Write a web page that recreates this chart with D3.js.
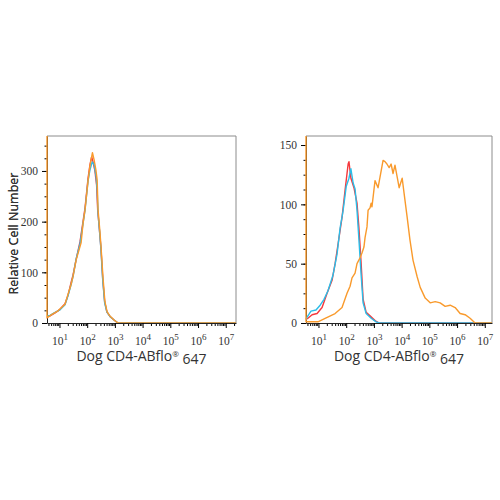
<!DOCTYPE html>
<html>
<head>
<meta charset="utf-8">
<script src="https://cdn.jsdelivr.net/npm/d3@7"></script>
<style>
  body { margin: 0; background: #fff; }
</style>
</head>
<body>
<div id="chart"></div>
<script>
// Each point is [log10 fluorescence, cell count]
const leftRed = [
    [0.55, 12], [0.66, 14], [0.84, 20], [1.02, 27], [1.20, 38], [1.31, 55], [1.42, 80],
    [1.49, 95], [1.60, 125], [1.74, 160], [1.85, 200], [1.92, 226], [2.03, 285],
    [2.10, 312], [2.16, 328], [2.21, 318], [2.28, 300], [2.34, 272], [2.38, 222],
    [2.45, 178], [2.50, 145], [2.56, 88], [2.63, 42], [2.71, 22], [2.82, 13], [2.97, 6],
    [3.11, 0], [7.37, 0]
];
const leftCyan = [
    [0.55, 14], [0.66, 15], [0.84, 21], [1.02, 26], [1.20, 36], [1.31, 54], [1.42, 76],
    [1.49, 92], [1.60, 126], [1.74, 156], [1.85, 196], [1.92, 222], [2.03, 280],
    [2.10, 302], [2.18, 318], [2.25, 312], [2.32, 290], [2.36, 262], [2.39, 218],
    [2.46, 172], [2.50, 142], [2.56, 85], [2.63, 40], [2.71, 22], [2.82, 13], [2.97, 6],
    [3.11, 0], [7.37, 0]
];
const leftOrange = [
    [0.55, 1000], [0.55, 10], [0.73, 17], [0.95, 24], [1.20, 37], [1.31, 57], [1.42, 76],
    [1.49, 92], [1.60, 124], [1.78, 158], [1.85, 196], [1.92, 222], [2.03, 280],
    [2.10, 310], [2.19, 336], [2.25, 322], [2.32, 300], [2.36, 282], [2.39, 225],
    [2.46, 180], [2.50, 150], [2.57, 90], [2.64, 42], [2.72, 22], [2.82, 14], [2.97, 6],
    [3.11, 0], [7.37, 0]
];

const rightRed = [
    [0.55, 3], [0.62, 4], [0.77, 7], [0.95, 8], [1.13, 13], [1.31, 25], [1.49, 36], [1.60, 50],
    [1.71, 67], [1.85, 89], [1.96, 112], [2.07, 134], [2.10, 136], [2.17, 122],
    [2.28, 114], [2.39, 101], [2.46, 80], [2.54, 50], [2.61, 20], [2.72, 9],
    [2.86, 6], [3.04, 2], [3.19, 0], [7.26, 0]
];
const rightCyan = [
    [0.55, 3], [0.59, 5], [0.73, 10], [0.91, 11], [1.06, 15], [1.20, 20], [1.34, 27], [1.52, 40],
    [1.67, 58], [1.78, 80], [1.89, 95], [2.00, 115], [2.10, 122], [2.17, 130],
    [2.25, 118], [2.32, 113], [2.39, 95], [2.46, 70], [2.54, 40], [2.61, 17],
    [2.72, 8], [2.90, 4], [3.08, 1], [3.19, 0], [7.26, 0]
];
const rightOrange = [
    [0.55, 500], [0.55, 1], [0.98, 1], [1.24, 4], [1.60, 8], [1.85, 13], [2.03, 25],
    [2.14, 31], [2.21, 38], [2.32, 42], [2.39, 50], [2.50, 55], [2.57, 59], [2.64, 64],
    [2.68, 72], [2.75, 81], [2.79, 95], [2.86, 97], [2.90, 101], [2.93, 98],
    [3.04, 120], [3.15, 114], [3.22, 123], [3.33, 137], [3.40, 136], [3.47, 134],
    [3.55, 131], [3.62, 134], [3.69, 126], [3.76, 133], [3.84, 123], [3.91, 114],
    [4.02, 122], [4.09, 109], [4.20, 89], [4.30, 70], [4.41, 53], [4.56, 39],
    [4.67, 30], [4.85, 21], [5.03, 17], [5.21, 18], [5.39, 17], [5.57, 14],
    [5.75, 15], [5.93, 13], [6.11, 8], [6.29, 7], [6.47, 4], [6.65, 0], [7.26, 0]
];

const decades = [1, 2, 3, 4, 5, 6, 7];
const leftYTicks = [0, 100, 200, 300];
const rightYTicks = [0, 50, 100, 150];
const xTitle = "Dog CD4-ABflo";
const yTitle = "Relative Cell Number";

const ctx = {
    w: 500,
    h: 500,
    red: "#f5383c",
    cyan: "#2bbde8",
    orange: "#f99a2c",
    serif: "'Liberation Serif', 'DejaVu Serif', serif",
    sans: "'Open Sans', 'DejaVu Sans', sans-serif"
};

const panels = [
    { id: "a", x: 47, y: 136, w: 189, h: 187, xMax: 7.37, yMax: 369, yTicks: leftYTicks, yMinor: 25,
      series: [[leftRed, ctx.red], [leftCyan, ctx.cyan], [leftOrange, ctx.orange]] },
    { id: "b", x: 306, y: 136, w: 186, h: 187, xMax: 7.26, yMax: 157.6, yTicks: rightYTicks, yMinor: 12.5,
      series: [[rightRed, ctx.red], [rightCyan, ctx.cyan], [rightOrange, ctx.orange]] }
];

function createViz() {
    const svg = d3.select("#chart").append("svg")
        .attr("width", ctx.w)
        .attr("height", ctx.h);

    panels.forEach(p => drawPanel(svg, p));
}

function drawPanel(svg, p) {
    const g = svg.append("g").attr("transform", `translate(${p.x},${p.y})`);

    const x = d3.scaleLog().domain([Math.pow(10, 0.55), Math.pow(10, p.xMax)]).range([0, p.w]);
    const y = d3.scaleLinear().domain([0, p.yMax]).range([p.h, 0]);

    // frame: top and right in grey
    g.append("path")
        .attr("d", `M0,0H${p.w}V${p.h}`)
        .attr("fill", "none")
        .attr("stroke", "#8c8c8c")
        .attr("stroke-width", 1);

    // minor x ticks
    const minor = [];
    for (let e = 0; e <= 7; e++) {
        for (let m = 2; m <= 9; m++) {
            const v = m * Math.pow(10, e);
            if (v > x.domain()[0] && v < x.domain()[1]) minor.push(v);
        }
    }
    g.append("g")
        .attr("transform", `translate(0,${p.h})`)
        .call(d3.axisBottom(x).tickValues(minor).tickSize(3).tickFormat(""))
        .call(a => a.select(".domain").remove());

    const xAxis = g.append("g")
        .attr("transform", `translate(0,${p.h})`)
        .call(d3.axisBottom(x)
            .tickValues(decades.map(d => Math.pow(10, d)))
            .tickSize(5)
            .tickSizeOuter(0)
            .tickPadding(9));
    xAxis.select(".domain").attr("stroke", "#222");
    xAxis.selectAll(".tick text")
        .attr("font-family", ctx.serif)
        .attr("font-size", "11.5px")
        .attr("fill", "#333")
        .text(null)
        .each(function(d) {
            const t = d3.select(this);
            t.append("tspan").text("10");
            t.append("tspan")
                .attr("dy", "-0.55em")
                .attr("font-size", "9px")
                .text(Math.round(Math.log10(d)));
        });

    // minor y ticks
    g.append("g")
        .call(d3.axisLeft(y).tickValues(d3.range(0, p.yMax, p.yMinor)).tickSize(2.5).tickFormat(""))
        .call(a => a.select(".domain").remove());

    const yAxis = g.append("g")
        .call(d3.axisLeft(y).tickValues(p.yTicks).tickSize(5).tickSizeOuter(0).tickPadding(4));
    yAxis.select(".domain").attr("stroke", "#222");
    yAxis.selectAll(".tick text")
        .attr("font-family", ctx.serif)
        .attr("font-size", "11.5px")
        .attr("fill", "#333");

    // histograms on top of the axes
    g.append("clipPath").attr("id", "clip-" + p.id)
        .append("rect").attr("x", -1).attr("width", p.w + 1).attr("height", p.h);

    const line = d3.line()
        .x(d => x(Math.pow(10, d[0])))
        .y(d => y(d[1]));

    const curves = g.append("g").attr("clip-path", `url(#clip-${p.id})`);
    p.series.forEach(([data, color]) => {
        curves.append("path")
            .datum(data)
            .attr("fill", "none")
            .attr("stroke", color)
            .attr("stroke-width", 1.4)
            .attr("stroke-linejoin", "round")
            .attr("d", line);
    });

    // axis titles
    const xt = g.append("text")
        .attr("x", p.w / 2)
        .attr("y", p.h + 38)
        .attr("text-anchor", "middle")
        .attr("font-family", ctx.sans)
        .attr("font-size", "14px")
        .attr("fill", "#333");
    xt.append("tspan").text(xTitle);
    xt.append("tspan").attr("dy", "-0.45em").attr("font-size", "8px").text("®");
    xt.append("tspan").attr("dy", "0.45em").text(" 647");

    g.append("text")
        .attr("transform", `translate(${-p.x + 18},${p.h / 2 + 4}) rotate(-90)`)
        .attr("text-anchor", "middle")
        .attr("font-family", ctx.sans)
        .attr("font-size", "12.5px")
        .attr("fill", "#333")
        .text(yTitle);
}

document.addEventListener("DOMContentLoaded", function () {
    createViz();
});
</script>
</body>
</html>
